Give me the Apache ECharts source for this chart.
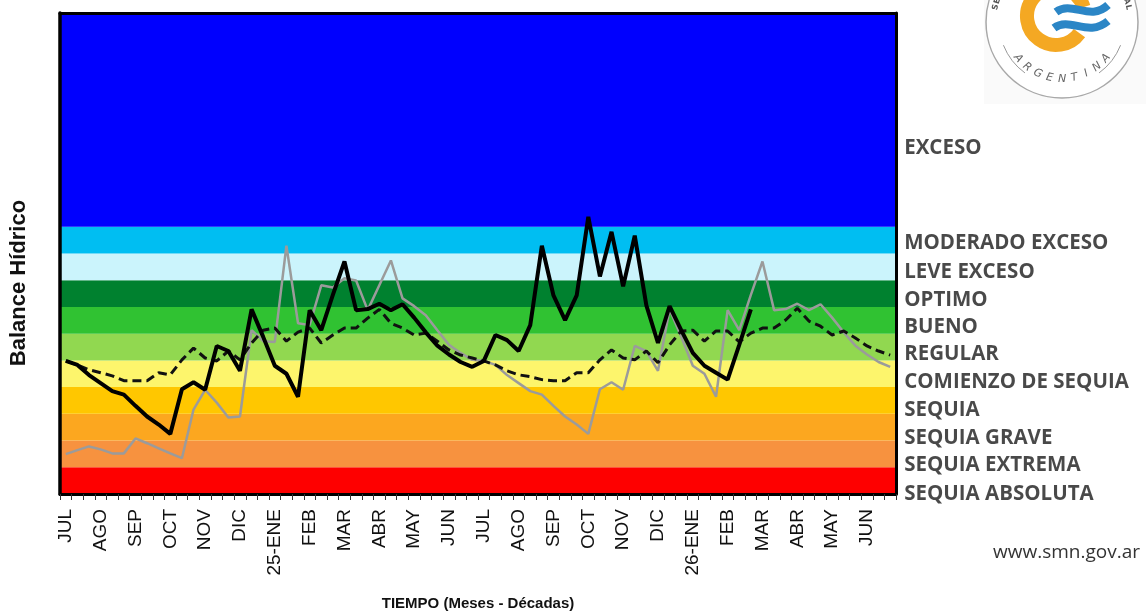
<!DOCTYPE html>
<html>
<head>
<meta charset="utf-8">
<script src="https://cdn.jsdelivr.net/npm/echarts@6/dist/echarts.min.js"></script>
<style>html,body{margin:0;padding:0;background:#fff}#c{width:1146px;height:616px}</style>
</head>
<body>
<div id="c"></div>
<script>
// ---- Tick labels (months, three decades each) ----
const months = ['JUL','AGO','SEP','OCT','NOV','DIC','25-ENE','FEB','MAR','ABR','MAY','JUN',
                'JUL','AGO','SEP','OCT','NOV','DIC','26-ENE','FEB','MAR','ABR','MAY','JUN'];
const decadesPerMonth = 3;

// ---- Water-balance classes (band units: 1 unit per class, EXCESO above 10) ----
const bandNames  = ['SEQUIA ABSOLUTA','SEQUIA EXTREMA','SEQUIA GRAVE','SEQUIA','COMIENZO DE SEQUIA',
                    'REGULAR','BUENO','OPTIMO','LEVE EXCESO','MODERADO EXCESO','EXCESO'];
const bandEdges  = [0,1,2,3,4,5,6,7,8,9,10,18];
const bandColors = ['#fe0000','#f7923f','#fca71f','#ffc700','#fdf56c',
                    '#91d850','#30c232','#00812f','#cbf4fc','#00bef2','#0000fe'];
const bandLabelPos = [0.0,1.08,2.08,3.12,4.2,5.24,6.24,7.25,8.29,9.4,12.95];

// ---- Series (values in band units) ----
const currentSeason = [4.98,4.83,4.45,4.15,3.85,3.72,3.30,2.90,2.60,2.25,3.92,4.18,3.90,5.54,5.35,4.61,6.91,5.88,
  4.80,4.50,3.64,6.88,6.13,7.45,8.70,6.88,6.92,7.12,6.88,7.10,6.60,6.05,5.55,5.22,4.94,4.76,
  4.98,5.95,5.76,5.35,6.32,9.29,7.43,6.51,7.43,10.37,8.14,9.81,7.77,9.67,7.06,5.65,7.03,6.13,
  5.28,4.80,4.54,4.28,5.58,6.91,
  null,null,null,null,null,null,null,null,null,null,null,null];
const previousSeason = [1.49,1.64,1.78,1.67,1.52,1.52,2.08,1.90,1.71,1.52,1.34,3.16,3.90,3.42,2.86,2.90,6.13,5.72,
  5.69,9.29,6.39,6.32,7.81,7.73,8.07,7.99,6.88,7.81,8.74,7.32,7.03,6.69,6.13,5.58,5.28,5.02,
  4.98,4.83,4.45,4.15,3.85,3.72,3.30,2.90,2.60,2.25,3.92,4.18,3.90,5.54,5.35,4.61,6.91,5.88,
  4.80,4.50,3.64,6.88,6.13,7.45,8.70,6.88,6.92,7.12,6.88,7.10,6.60,6.05,5.55,5.22,4.94,4.76];
const average = [4.98,4.83,4.65,4.54,4.42,4.24,4.24,4.24,4.54,4.46,5.02,5.46,5.09,4.98,5.35,5.02,5.65,6.13,
  6.21,5.72,6.06,6.21,5.65,5.95,6.21,6.21,6.58,6.91,6.39,6.21,5.95,6.02,5.72,5.39,5.20,5.09,
  4.98,4.83,4.61,4.46,4.39,4.28,4.24,4.24,4.54,4.54,5.02,5.39,5.09,5.02,5.35,4.91,5.58,6.10,
  6.13,5.72,6.10,6.10,5.69,6.02,6.21,6.21,6.51,6.95,6.47,6.28,5.95,6.10,5.84,5.54,5.35,5.20];

// categories built from the month list
const categories = [];
months.forEach((m, mi) => { for (let d = 1; d <= decadesPerMonth; d++) categories.push(mi + '-' + d); });

const chart = echarts.init(document.getElementById('c'), null, {renderer: 'canvas'});

const areaData = bandColors.map((c, i) => [
  {yAxis: bandEdges[i], itemStyle: {color: c}},
  {yAxis: bandEdges[i + 1]}
]);

// logo helper (decoration)
function arcText(text, cx, cy, r, a0, a1, bottom, style) {
  const els = [];
  const n = text.length;
  for (let i = 0; i < n; i++) {
    const a = a0 + (a1 - a0) * (n === 1 ? 0.5 : i / (n - 1));
    const x = cx + r * Math.cos(a), y = cy + r * Math.sin(a);
    els.push({type: 'text', x: x, y: y,
      rotation: bottom ? -(a - Math.PI / 2) : -(a + Math.PI / 2),
      style: Object.assign({text: text[i], align: 'center', verticalAlign: 'middle'}, style)});
  }
  return els;
}
const lcx = 1062, lcy = 22;
const logo = [
  {type: 'rect', shape: {x: 984, y: 0, width: 162, height: 104}, style: {fill: '#fafafa'}},
  {type: 'circle', shape: {cx: lcx, cy: lcy, r: 76}, style: {fill: '#fff', stroke: '#a8a8a8', lineWidth: 1.5}},
  {type: 'arc', shape: {cx: lcx, cy: lcy, r: 63, startAngle: Math.PI * 0.12, endAngle: Math.PI * 0.30}, style: {stroke: '#999', lineWidth: 1, fill: null}},
  {type: 'arc', shape: {cx: lcx, cy: lcy, r: 63, startAngle: Math.PI * 0.70, endAngle: Math.PI * 0.88}, style: {stroke: '#999', lineWidth: 1, fill: null}},
  {type: 'arc', shape: {cx: 1056, cy: 16, r: 29, startAngle: Math.PI * 0.2, endAngle: Math.PI * 1.9, clockwise: true}, style: {stroke: '#f4a823', lineWidth: 14, fill: null}},
  {type: 'bezierCurve', shape: {x1: 1056, y1: 12, cpx1: 1072, cpy1: 0, cpx2: 1090, cpy2: 22, x2: 1108, y2: 5}, style: {stroke: '#2b86c6', lineWidth: 8, fill: null}},
  {type: 'bezierCurve', shape: {x1: 1054, y1: 28, cpx1: 1070, cpy1: 16, cpx2: 1088, cpy2: 38, x2: 1108, y2: 21}, style: {stroke: '#2b86c6', lineWidth: 8, fill: null}},
  {type: 'bezierCurve', shape: {x1: 1058, y1: -4, cpx1: 1072, cpy1: -16, cpx2: 1090, cpy2: 6, x2: 1108, y2: -11}, style: {stroke: '#2b86c6', lineWidth: 8, fill: null}}
].concat(arcText('ARGENTINA', lcx, lcy, 57, Math.PI * 0.78, Math.PI * 0.22, true,
        {fill: '#666', font: 'italic 11px "DejaVu Sans"'}))
 .concat(arcText('SERVICIO METEOROLOGICO NACIONAL', lcx, lcy, 68, Math.PI * 1.07, Math.PI * 1.93, false,
        {fill: '#555', font: 'bold 8px "DejaVu Sans"'}));

const option = {
  animation: false,
  backgroundColor: '#fff',
  grid: {left: 60, right: 250, top: 13, bottom: 119, containLabel: false},
  xAxis: [{
    type: 'category', data: categories, boundaryGap: true, position: 'bottom', z: 10,
    axisLine: {show: true, onZero: false, lineStyle: {color: '#000', width: 3}},
    axisTick: {show: true, interval: 0, length: 6, lineStyle: {color: '#333', width: 1}},
    axisLabel: {
      interval: (i) => i % decadesPerMonth === 0,
      formatter: (v, i) => months[Math.floor(i / decadesPerMonth)],
      rotate: 90, margin: 15, color: '#111', fontSize: 19, fontFamily: 'Liberation Sans'
    },
    splitLine: {show: false},
    name: 'TIEMPO (Meses - Décadas)', nameLocation: 'middle', nameGap: 102,
    nameTextStyle: {fontFamily: 'Liberation Sans', fontWeight: 'bold', fontSize: 15, color: '#111'}
  }, {
    type: 'category', data: categories, boundaryGap: true, position: 'top', z: 10,
    axisLine: {show: true, onZero: false, lineStyle: {color: '#000', width: 3}},
    axisTick: {show: false}, axisLabel: {show: false}, splitLine: {show: false}
  }],
  yAxis: [{
    type: 'value', min: 0, max: 18, position: 'left', z: 10,
    axisLine: {show: true, onZero: false, lineStyle: {color: '#000', width: 3.5}},
    axisTick: {show: false}, axisLabel: {show: false}, splitLine: {show: false}
  }, {
    type: 'value', min: 0, max: 18, position: 'right', z: 10,
    axisLine: {show: true, onZero: false, lineStyle: {color: '#000', width: 3}},
    axisTick: {show: false}, axisLabel: {show: false}, splitLine: {show: false}
  }],
  graphic: [{
    type: 'text', x: 19, y: 283, rotation: Math.PI / 2,
    style: {text: 'Balance Hídrico', align: 'center', verticalAlign: 'middle',
            font: 'bold 22px "Liberation Sans"', fill: '#111'}
  }, {
    type: 'text', x: 1140, y: 553,
    style: {text: 'www.smn.gov.ar', align: 'right', verticalAlign: 'middle',
            font: '19px "Open Sans"', fill: '#333'}
  }, {type: 'group', children: logo}],
  series: [{
    name: 'bands', type: 'line', data: [], z: 1, silent: true,
    markArea: {silent: true, data: areaData, itemStyle: {opacity: 1}}
  }, {
    name: 'previous', type: 'line', data: previousSeason, z: 5, symbol: 'none',
    lineStyle: {color: '#9b9b9b', width: 2.5}
  }, {
    name: 'average', type: 'line', data: average, z: 6, symbol: 'none',
    lineStyle: {color: '#111', width: 3, type: [9, 5]}
  }, {
    name: 'current', type: 'line', data: currentSeason, z: 7, symbol: 'none', connectNulls: false,
    lineStyle: {color: '#000', width: 4}
  }, {
    name: 'classes', type: 'scatter', symbolSize: 0, z: 8, silent: true, clip: false,
    data: bandNames.map((n, i) => ({value: [categories.length - 1, bandLabelPos[i]], name: n})),
    label: {show: true, position: 'right', distance: 14, formatter: (p) => p.name,
            fontFamily: 'Open Sans', fontWeight: 'bold', fontSize: 20.5, color: '#1b1b1b'}
  }]
};
chart.setOption(option);
</script>
</body>
</html>
